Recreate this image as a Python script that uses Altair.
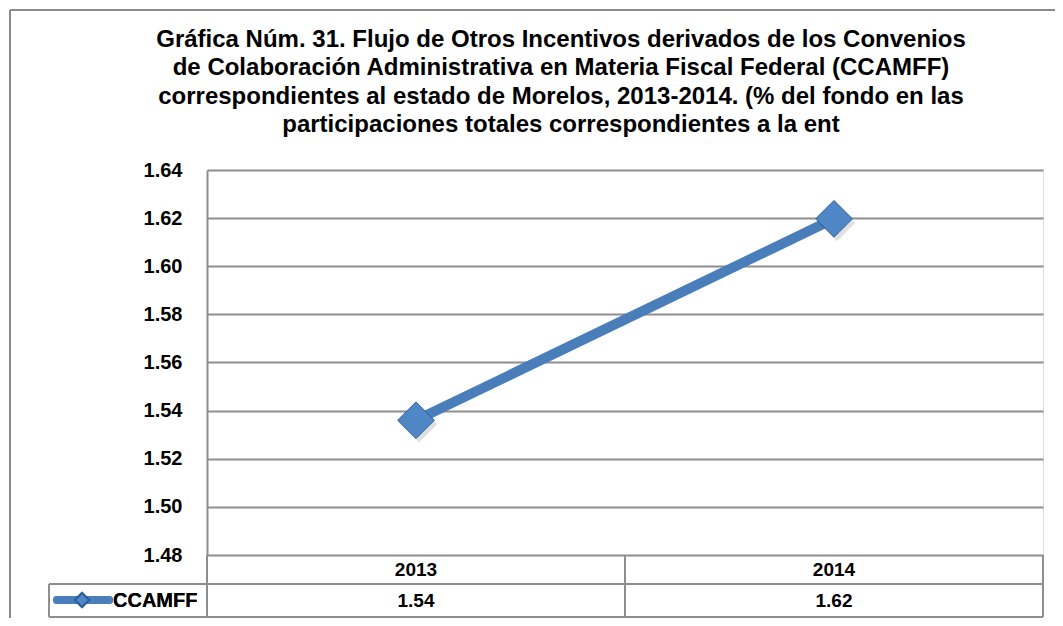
import altair as alt
import pandas as pd

# ---- data ----
years = ["2013", "2014"]
values = [1.536, 1.6197]
series_name = "CCAMFF"
y_ticks = [1.48, 1.50, 1.52, 1.54, 1.56, 1.58, 1.60, 1.62, 1.64]
title_lines = [
    "Gráfica Núm. 31. Flujo de Otros Incentivos derivados de los Convenios",
    "de Colaboración Administrativa en Materia Fiscal Federal (CCAMFF)",
    "correspondientes al estado de Morelos, 2013-2014. (% del fondo en las",
    "participaciones totales correspondientes a la ent",
]

df = pd.DataFrame({"year": years, "value": values})

FONT = "Liberation Sans"
BLUE = "#4A7EBB"
GRID = "#8E8E8E"
W, H = 836, 385

x_enc = alt.X("year:N", scale=alt.Scale(type="point", padding=0.5), axis=None)
y_enc = alt.Y(
    "value:Q",
    scale=alt.Scale(domain=[1.48, 1.64], nice=False, zero=False),
    axis=alt.Axis(
        values=y_ticks, format=".2f", title=None, ticks=False, labelPadding=25,
        labelFont=FONT, labelFontWeight="bold", labelFontSize=20, labelColor="#000000",
        grid=True, gridColor=GRID, gridWidth=2, domainColor=GRID, domainWidth=2,
    ),
)

base = alt.Chart(df)

line = base.mark_line(color=BLUE, strokeWidth=10).encode(x=x_enc, y=y_enc)
shadow = base.mark_point(shape="diamond", size=1350, filled=True, color="#000000",
                         opacity=0.12, xOffset=3, yOffset=4).encode(x=x_enc, y=y_enc)
points = base.mark_point(shape="diamond", size=1350, filled=True, fill="#4F86C6",
                         stroke="#2F5F98", strokeWidth=1, opacity=1).encode(x=x_enc, y=y_enc)

header_text = base.mark_text(font=FONT, fontWeight="bold", fontSize=19, color="#000000",
                             baseline="middle").encode(x=x_enc, y=alt.value(400), text="year:N")
value_text = base.mark_text(font=FONT, fontWeight="bold", fontSize=19, color="#000000",
                            baseline="middle").encode(x=x_enc, y=alt.value(431),
                                                      text=alt.Text("value:Q", format=".2f"))

def rule(x1, x2, y1, y2, color=GRID, width=2):
    return alt.Chart(df).mark_rule(color=color, strokeWidth=width).encode(
        x=alt.value(x1), x2=alt.value(x2), y=alt.value(y1), y2=alt.value(y2))

table_rules = [
    rule(-158, W, 414, 414),
    rule(-158, W, 447, 447),
    rule(0, 0, 385, 447),
    rule(W / 2, W / 2, 385, 447),
    rule(W, W, 385, 447),
    rule(-158, -158, 414, 447),
]
frame = [
    rule(-197, -197, -160, 448, color="#8A8A8A", width=2),
    rule(-197, W + 12, -160, -160, color="#8A8A8A", width=2),
]

legend_line = alt.Chart(df).mark_rule(color=BLUE, strokeWidth=8, strokeCap="round").encode(
    x=alt.value(-150), x2=alt.value(-98), y=alt.value(430))
legend_diamond = alt.Chart(df).mark_point(shape="diamond", size=200, filled=True,
                                          fill="#4F86C6", stroke="#2F5F98", opacity=1).encode(
    x=alt.value(-125), y=alt.value(430))
legend_text = alt.Chart(df).mark_text(font=FONT, fontWeight="bold", fontSize=20, color="#000000",
                                      align="left", baseline="middle", text=series_name).encode(
    x=alt.value(-94), y=alt.value(431))

chart = alt.layer(
    *frame, *table_rules, line, shadow, points, header_text, value_text,
    legend_line, legend_diamond, legend_text,
).properties(
    width=W, height=H,
    title=alt.TitleParams(
        text=title_lines, font=FONT, fontSize=24, fontWeight="bold", color="#000000",
        lineHeight=28.5, anchor="middle", frame="group", dx=-64, offset=-128,
    ),
    autosize=alt.AutoSizeParams(type="none"),
    padding={"left": 199, "top": 162, "right": 12, "bottom": 63},
).configure_view(stroke=None).configure(background="white")

chart.save("out.html", embed_options={"renderer": "svg", "actions": False})
